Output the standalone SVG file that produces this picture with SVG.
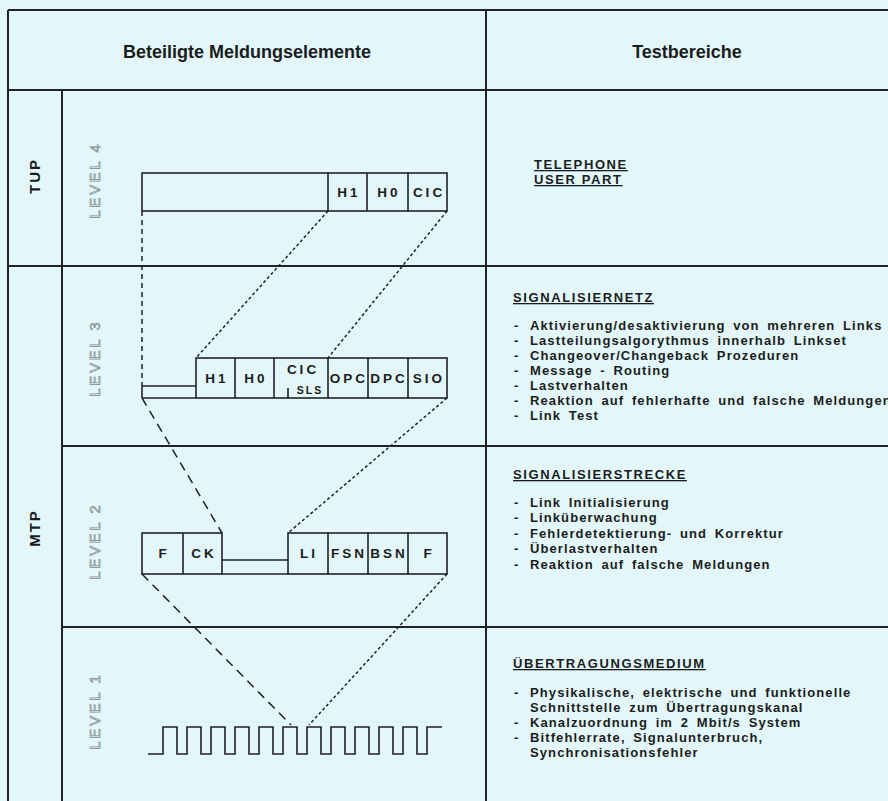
<svg xmlns="http://www.w3.org/2000/svg" width="888" height="801" viewBox="0 0 888 801">
<style>
.ln{stroke:#1f2326;stroke-width:2;fill:none}
.bx{stroke:#1f2326;stroke-width:1.6;fill:none}
.hd{font-family:"Liberation Sans",Arial,sans-serif;font-weight:bold;font-size:18px;fill:#1a1d20;text-anchor:middle}
.grp{font-family:"Liberation Sans",Arial,sans-serif;font-weight:bold;font-size:15px;fill:#1a1d20;text-anchor:middle;letter-spacing:2px}
.lvl{font-family:"Liberation Sans",Arial,sans-serif;font-size:14.5px;fill:none;stroke:#7e8a8d;stroke-width:0.7;text-anchor:middle;letter-spacing:3px}
.cell{font-family:"Liberation Sans",Arial,sans-serif;font-weight:bold;font-size:13.5px;fill:#1a1d20;text-anchor:middle;letter-spacing:3px}
.sm{font-family:"Liberation Sans",Arial,sans-serif;font-weight:bold;font-size:10.5px;fill:#1a1d20;text-anchor:middle;letter-spacing:2px}
.ttl{font-family:"Liberation Sans",Arial,sans-serif;font-weight:bold;font-size:13px;fill:#1a1d20;letter-spacing:1.6px;text-decoration:underline}
.it{font-family:"Liberation Sans",Arial,sans-serif;font-weight:bold;font-size:13px;fill:#1a1d20;letter-spacing:1.1px;word-spacing:3px}
.dsh{stroke:#1f2326;stroke-width:1.5;fill:none;stroke-dasharray:5 4}
.lng{stroke:#1f2326;stroke-width:1.5;fill:none;stroke-dasharray:9 6}
.dot{stroke:#1f2326;stroke-width:1.5;fill:none;stroke-dasharray:3 2.5}
</style>
<rect x="0" y="0" width="888" height="801" fill="#e3f6f9"/>
<g id="frame">
<line class="ln" x1="8" y1="10" x2="888" y2="10"/>
<line class="ln" x1="8" y1="10" x2="8" y2="801"/>
<line class="ln" x1="486" y1="10" x2="486" y2="801"/>
<line class="ln" x1="8" y1="90" x2="888" y2="90"/>
<line class="ln" x1="62" y1="90" x2="62" y2="801"/>
<line class="ln" x1="8" y1="266" x2="888" y2="266"/>
<line class="ln" x1="62" y1="446" x2="888" y2="446"/>
<line class="ln" x1="62" y1="627" x2="888" y2="627"/>
</g>
<g id="headers">
<text class="hd" x="247" y="58">Beteiligte Meldungselemente</text>
<text class="hd" x="687" y="58">Testbereiche</text>
</g>
<g id="tup-label"><text class="grp" transform="translate(40,176) rotate(-90)">TUP</text></g>
<g id="mtp-label"><text class="grp" transform="translate(40,528) rotate(-90)">MTP</text></g>
<g id="level-labels">
<text class="lvl" transform="translate(100,180) rotate(-90)">LEVEL<tspan dx="6">4</tspan></text>
<text class="lvl" transform="translate(100,358) rotate(-90)">LEVEL<tspan dx="6">3</tspan></text>
<text class="lvl" transform="translate(100,541) rotate(-90)">LEVEL<tspan dx="6">2</tspan></text>
<text class="lvl" transform="translate(100,711) rotate(-90)">LEVEL<tspan dx="6">1</tspan></text>
</g>
<g id="level4-frame">
<rect class="bx" x="142" y="173" width="305" height="38"/>
<line class="bx" x1="328" y1="173" x2="328" y2="211"/>
<line class="bx" x1="367" y1="173" x2="367" y2="211"/>
<line class="bx" x1="408" y1="173" x2="408" y2="211"/>
<text class="cell" x="349" y="197">H1</text>
<text class="cell" x="389" y="197">H0</text>
<text class="cell" x="429" y="197">CIC</text>
</g>
<g id="level3-frame">
<rect class="bx" x="196" y="358" width="251" height="40"/>
<line class="bx" x1="142" y1="386" x2="196" y2="386"/>
<line class="bx" x1="142" y1="398" x2="196" y2="398"/>
<line class="bx" x1="142" y1="386" x2="142" y2="398"/>
<line class="bx" x1="235" y1="358" x2="235" y2="398"/>
<line class="bx" x1="274" y1="358" x2="274" y2="398"/>
<line class="bx" x1="328" y1="358" x2="328" y2="398"/>
<line class="bx" x1="368" y1="358" x2="368" y2="398"/>
<line class="bx" x1="408" y1="358" x2="408" y2="398"/>
<line class="bx" x1="288" y1="388" x2="288" y2="398"/>
<text class="cell" x="217" y="383">H1</text>
<text class="cell" x="256" y="383">H0</text>
<text class="cell" x="303" y="374">CIC</text>
<text class="sm" x="310" y="394">SLS</text>
<text class="cell" x="349" y="383">OPC</text>
<text class="cell" x="389" y="383">DPC</text>
<text class="cell" x="429" y="383">SIO</text>
</g>
<g id="level2-frame">
<rect class="bx" x="142" y="533" width="80" height="41"/>
<rect class="bx" x="288" y="533" width="159" height="41"/>
<line class="bx" x1="222" y1="574" x2="288" y2="574"/>
<line class="bx" x1="222" y1="560" x2="288" y2="560"/>
<line class="bx" x1="183" y1="533" x2="183" y2="574"/>
<line class="bx" x1="328" y1="533" x2="328" y2="574"/>
<line class="bx" x1="368" y1="533" x2="368" y2="574"/>
<line class="bx" x1="408" y1="533" x2="408" y2="574"/>
<text class="cell" x="164" y="558">F</text>
<text class="cell" x="204" y="558">CK</text>
<text class="cell" x="309" y="558">LI</text>
<text class="cell" x="349" y="558">FSN</text>
<text class="cell" x="389" y="558">BSN</text>
<text class="cell" x="429" y="558">F</text>
</g>
<g id="level1-signal">
<path class="bx" stroke-width="2" d="M148,754 H163 V727 H177 V754 H187 V727 H201 V754 H211 V727 H225 V754 H235 V727 H249 V754 H259 V727 H273 V754 H283 V727 H297 V754 H307 V727 H321 V754 H331 V727 H345 V754 H355 V727 H369 V754 H379 V727 H393 V754 H403 V727 H417 V754 H427 V727 H442"/>
</g>
<g id="connectors">
<line class="dsh" x1="142" y1="211" x2="142" y2="386"/>
<line class="dot" x1="328" y1="211" x2="196" y2="358"/>
<line class="dot" x1="447" y1="211" x2="328" y2="358"/>
<line class="lng" x1="142" y1="398" x2="222" y2="533"/>
<line class="dot" x1="447" y1="398" x2="288" y2="533"/>
<line class="lng" x1="142" y1="574" x2="291" y2="725"/>
<line class="dot" x1="447" y1="574" x2="309" y2="725"/>
</g>
<g id="tests-level4">
<text class="ttl" x="534" y="169">TELEPHONE</text>
<text class="ttl" x="534" y="184">USER PART</text>
</g>
<g id="tests-level3">
<text class="ttl" x="513" y="302">SIGNALISIERNETZ</text>
<text class="it" x="514" y="330">-</text><text class="it" x="530" y="330">Aktivierung/desaktivierung von mehreren Links</text>
<text class="it" x="514" y="345">-</text><text class="it" x="530" y="345">Lastteilungsalgorythmus innerhalb Linkset</text>
<text class="it" x="514" y="360">-</text><text class="it" x="530" y="360">Changeover/Changeback Prozeduren</text>
<text class="it" x="514" y="375">-</text><text class="it" x="530" y="375">Message - Routing</text>
<text class="it" x="514" y="390">-</text><text class="it" x="530" y="390">Lastverhalten</text>
<text class="it" x="514" y="405">-</text><text class="it" x="530" y="405">Reaktion auf fehlerhafte und falsche Meldungen</text>
<text class="it" x="514" y="420">-</text><text class="it" x="530" y="420">Link Test</text>
</g>
<g id="tests-level2">
<text class="ttl" x="513" y="479">SIGNALISIERSTRECKE</text>
<text class="it" x="514" y="507">-</text><text class="it" x="530" y="507">Link Initialisierung</text>
<text class="it" x="514" y="522">-</text><text class="it" x="530" y="522">Linküberwachung</text>
<text class="it" x="514" y="538">-</text><text class="it" x="530" y="538">Fehlerdetektierung- und Korrektur</text>
<text class="it" x="514" y="553">-</text><text class="it" x="530" y="553">Überlastverhalten</text>
<text class="it" x="514" y="569">-</text><text class="it" x="530" y="569">Reaktion auf falsche Meldungen</text>
</g>
<g id="tests-level1">
<text class="ttl" x="513" y="668">ÜBERTRAGUNGSMEDIUM</text>
<text class="it" x="514" y="697">-</text><text class="it" x="530" y="697">Physikalische, elektrische und funktionelle</text>
<text class="it" x="530" y="712">Schnittstelle zum Übertragungskanal</text>
<text class="it" x="514" y="727">-</text><text class="it" x="530" y="727">Kanalzuordnung im 2 Mbit/s System</text>
<text class="it" x="514" y="742">-</text><text class="it" x="530" y="742">Bitfehlerrate, Signalunterbruch,</text>
<text class="it" x="530" y="757">Synchronisationsfehler</text>
</g>
</svg>
